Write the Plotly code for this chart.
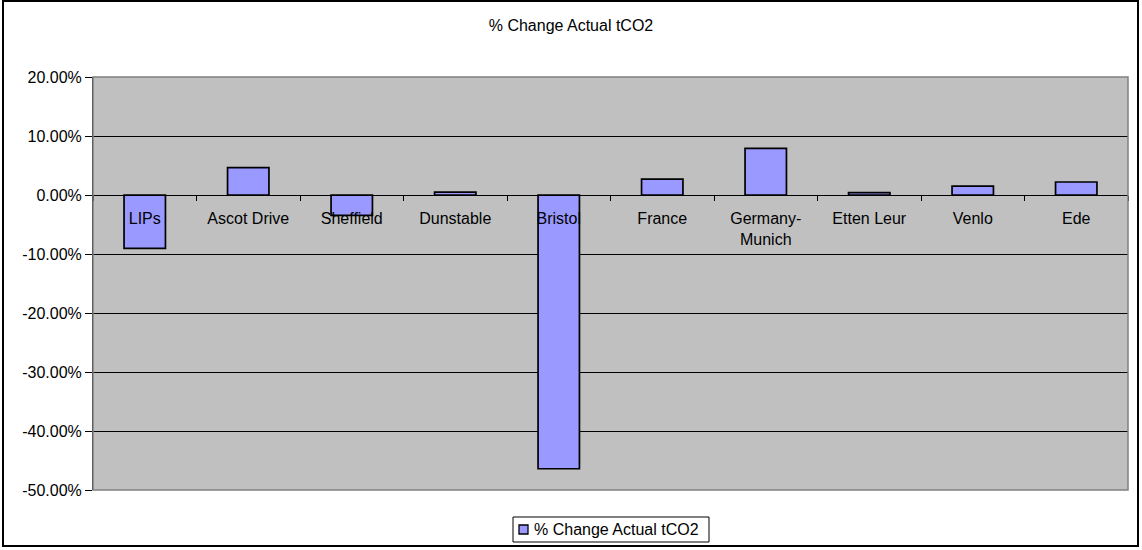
import plotly.graph_objects as go

# Sites and their % change in actual tCO2 (as fractions)
sites = ["LIPs", "Ascot Drive", "Sheffield", "Dunstable", "Bristol",
         "France", "Germany-<br>Munich", "Etten Leur", "Venlo", "Ede"]
pct_change = [-0.0903, 0.0463, -0.0345, 0.005, -0.464,
              0.027, 0.079, 0.004, 0.015, 0.022]

y_ticks = [0.2, 0.1, 0.0, -0.1, -0.2, -0.3, -0.4, -0.5]
y_tick_labels = ["20.00%", "10.00%", "0.00%", "-10.00%", "-20.00%",
                 "-30.00%", "-40.00%", "-50.00%"]

series_name = "% Change Actual tCO2"
bar_color = "#9999FF"
font_family = "Liberation Sans, Arial, sans-serif"

W, H = 1142, 550
ML, MR, MT, MB = 93, 14, 77, 60
pw, ph = W - ML - MR, H - MT - MB


def px_x(p):
    return (p - ML) / pw


def px_y(p):
    return (H - MB - p) / ph


fig = go.Figure()
fig.add_trace(go.Bar(
    x=sites, y=pct_change, name=series_name,
    marker=dict(color=bar_color, line=dict(color="black", width=1.7)),
    width=0.4, showlegend=False,
))

y_min, y_max = -0.5, 0.2
zero_pos = (0 - y_min) / (y_max - y_min)

# compact boxed legend below the plot area
legend_shapes = [
    dict(type="rect", xref="paper", yref="paper",
         x0=px_x(513), x1=px_x(709), y0=px_y(542), y1=px_y(517),
         line=dict(color="black", width=1), fillcolor="white"),
    dict(type="rect", xref="paper", yref="paper",
         x0=px_x(519), x1=px_x(528), y0=px_y(534), y1=px_y(525),
         line=dict(color="black", width=1.3), fillcolor=bar_color),
]
legend_text = dict(text=series_name, xref="paper", yref="paper",
                   x=px_x(532), y=px_y(529.5), xanchor="left",
                   yanchor="middle", showarrow=False,
                   font=dict(size=16, color="black"))

fig.update_layout(
    width=W, height=H,
    margin=dict(l=ML, r=MR, t=MT, b=MB, autoexpand=False),
    paper_bgcolor="white", plot_bgcolor="#C0C0C0",
    font=dict(family=font_family, size=16, color="black"),
    title=dict(text=series_name, x=0.5, xref="container", y=1 - 25 / H,
               yref="container", xanchor="center", yanchor="middle",
               font=dict(size=16)),
    xaxis=dict(type="category", anchor="free", position=zero_pos,
               showline=True, linecolor="black", linewidth=1,
               ticks="outside", ticklen=5, tickcolor="black",
               tickson="boundaries", showgrid=False, ticklabelstandoff=9,
               range=[-0.5, len(sites) - 0.5], tickfont=dict(size=16)),
    yaxis=dict(range=[y_min, y_max], tickvals=y_ticks, ticktext=y_tick_labels,
               showgrid=True, gridcolor="black", gridwidth=1,
               zeroline=True, zerolinecolor="black", zerolinewidth=1,
               showline=True, linecolor="black", linewidth=1,
               ticks="outside", ticklen=7, tickcolor="black",
               tickfont=dict(size=16)),
    showlegend=False,
    annotations=[legend_text],
    shapes=[
        # plot-area frame
        dict(type="rect", xref="paper", yref="paper", x0=0, x1=1, y0=0, y1=1,
             line=dict(color="#808080", width=1.5), layer="above"),
        # outer chart border
        dict(type="rect", xref="paper", yref="paper",
             x0=px_x(3), x1=px_x(1138), y0=px_y(546), y1=px_y(1),
             line=dict(color="black", width=2)),
    ] + legend_shapes,
)

fig.write_html("out.html")
